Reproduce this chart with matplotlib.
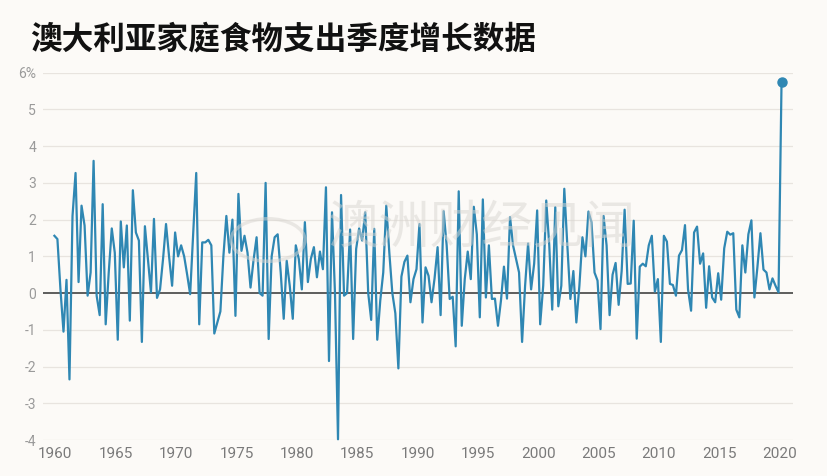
import matplotlib
matplotlib.use("Agg")
import matplotlib.pyplot as plt
from matplotlib.patches import Circle
import pandas as pd

plt.rcParams['font.family'] = ['Noto Sans CJK SC', 'DejaVu Sans']

title = "澳大利亚家庭食物支出季度增长数据"
watermark = "澳洲财经见闻"
start_quarter = "1959-12-01"
growth = [
    1.56, 1.47, 0.1, -1.05, 0.36, -2.35, 2.1, 3.27, 0.3, 2.38,
    1.84, -0.07, 0.56, 3.6, -0.07, -0.6, 2.42, -0.85, 0.56, 1.76,
    1.1, -1.27, 1.95, 0.7, 1.84, -0.75, 2.8, 1.65, 1.43, -1.33,
    1.82, 0.93, 0.02, 2.02, -0.13, 0.1, 0.93, 1.88, 1.0, 0.2,
    1.65, 1.0, 1.3, 1.0, 0.5, -0.03, 1.6, 3.27, -0.85, 1.38,
    1.38, 1.45, 1.3, -1.1, -0.8, -0.5, 1.0, 2.1, 1.1, 2.0,
    -0.62, 2.7, 1.15, 1.56, 1.1, 0.15, 0.9, 1.52, 0.0, -0.07,
    3.0, -1.25, 1.0, 1.52, 1.6, 0.56, -0.7, 0.88, 0.2, -0.7,
    1.3, 0.93, 0.1, 1.93, 0.3, 0.93, 1.25, 0.43, 1.13, 0.65,
    2.88, -1.85, 2.2, 0.0, -3.98, 2.67, -0.07, 0.0, 1.73, -1.25,
    1.2, 1.76, 1.43, 2.2, 0.0, -0.73, 1.75, -1.27, -0.2, 0.56,
    2.38, 1.1, 0.0, -0.55, -2.05, 0.45, 0.85, 1.02, -0.25, 0.38,
    0.65, 1.88, -0.8, 0.7, 0.47, -0.25, 0.4, 1.25, -0.6, 2.23,
    1.3, -0.16, -0.1, -1.45, 2.77, -0.89, 0.38, 1.13, 0.38, 2.35,
    1.6, -0.66, 2.55, -0.12, 1.3, -0.16, -0.15, -0.89, -0.2, 0.72,
    -0.15, 2.07, 1.3, 0.93, 0.56, -1.33, 0.2, 1.35, 0.1, 0.8,
    2.25, -0.85, 0.2, 2.52, 1.3, -0.45, 2.34, -0.36, 0.2, 2.84,
    1.3, -0.16, 0.6, -0.8, 0.2, 1.52, 1.0, 2.22, 1.93, 0.56,
    0.34, -0.98, 2.1, 1.3, -0.6, 0.5, 0.82, -0.32, 0.6, 2.27,
    0.25, 0.26, 1.97, -1.24, 0.72, 0.8, 0.73, 1.3, 1.56, 0.04,
    0.38, -1.33, 1.56, 1.4, 0.25, 0.22, -0.07, 1.02, 1.17, 1.85,
    0.1, -0.48, 1.65, 1.81, 0.8, 1.08, -0.4, 0.73, -0.12, -0.25,
    0.54, -0.18, 1.22, 1.67, 1.59, 1.63, -0.45, -0.66, 1.3, 0.56,
    1.6, 1.98, -0.12, 0.7, 1.63, 0.64, 0.56, 0.1, 0.4, 0.2,
    0.02, 5.76,
]
y_ticks = [-4, -3, -2, -1, 0, 1, 2, 3, 4, 5, 6]
y_labels = ["-4", "-3", "-2", "-1", "0", "1", "2", "3", "4", "5", "6%"]
x_years = list(range(1960, 2021, 5))

dates = pd.date_range(start=start_quarter, periods=len(growth), freq="3MS")

bg = "#fcfaf7"
line_color = "#2f87b3"

fig = plt.figure(figsize=(8.28, 4.76), dpi=100, facecolor=bg)
ax = fig.add_axes([0.0519, 0.0756, 0.9058, 0.7717], facecolor=bg)

ax.plot(dates, growth, color=line_color, lw=1.6, solid_joinstyle="round", zorder=3, clip_on=False)
ax.plot(dates[-1:], growth[-1:], "o", color=line_color, ms=6.5, zorder=4, clip_on=False)

ax.set_ylim(-4, 6)
ax.set_xlim(pd.Timestamp("1958-12-20"), pd.Timestamp("2021-02-10"))
ax.set_yticks(y_ticks)
ax.set_yticklabels(y_labels)
ax.set_xticks([pd.Timestamp(f"{y}-01-01") for y in x_years])
ax.set_xticklabels([str(y) for y in x_years])

for t in y_ticks:
    if t == 0:
        ax.axhline(t, color="#333333", lw=1.1, zorder=2)
    else:
        ax.axhline(t, color="#e8e4df", lw=0.9, zorder=1)

for s in ax.spines.values():
    s.set_visible(False)
ax.tick_params(axis="y", length=0, colors="#9a9a9a", labelsize=10, pad=5)
ax.tick_params(axis="x", length=0, colors="#7a7a7a", labelsize=11, pad=5)
for lab in ax.get_xticklabels() + ax.get_yticklabels():
    lab.set_family(["Roboto", "DejaVu Sans"])

# faint watermark
fig.text(0.581, 0.521, watermark, ha="center", va="center", fontsize=37,
         color="#d8d5d1", alpha=0.5, zorder=0)
fig.patches.append(Circle((268 / 828, 1 - 240 / 476), 37 / 828, transform=fig.transFigure,
                          fill=False, ec="#d8d5d1", lw=2.5, alpha=0.5, zorder=0))

fig.text(0.036, 0.917, title, ha="left", va="center", fontsize=22.8,
         fontweight="bold", color="#111111")

fig.savefig("out.png", dpi=100, facecolor=bg)
